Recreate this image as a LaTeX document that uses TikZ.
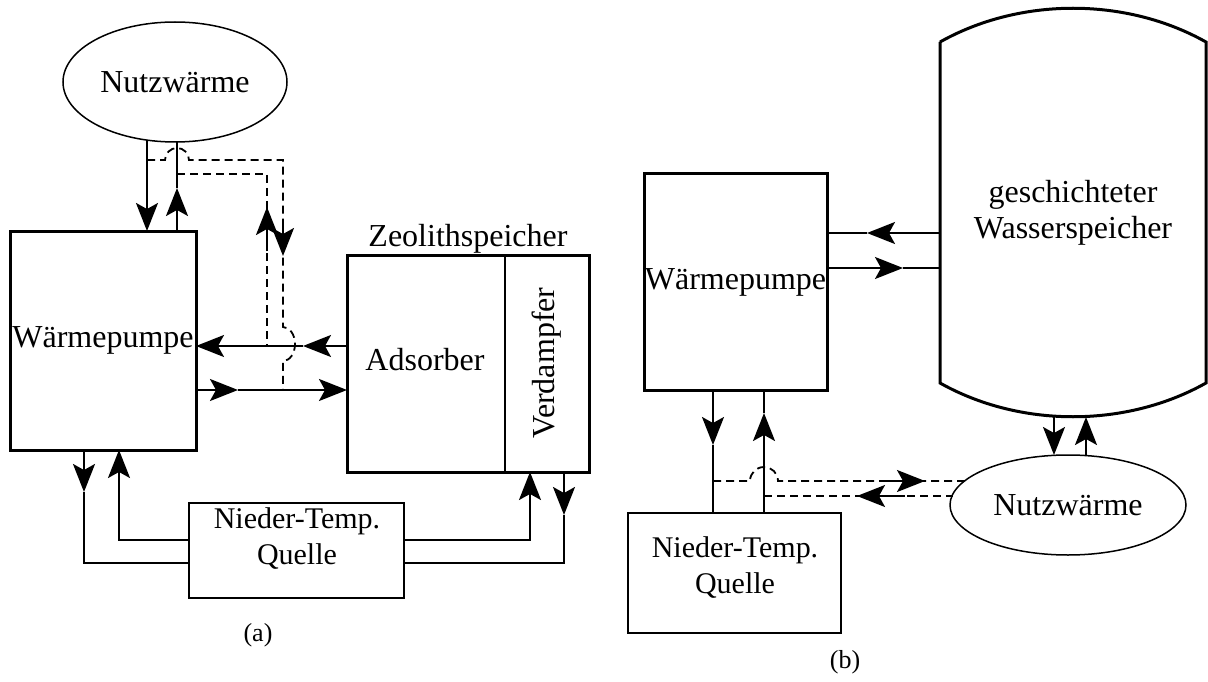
\documentclass[tikz,border=0pt]{standalone}
\usepackage{fontspec}
\setmainfont{Liberation Serif}
\usetikzlibrary{arrows.meta, shapes.geometric, positioning}

\begin{document}
\begin{tikzpicture}[
    x=1pt, y=-1pt,
    every node/.style={font=\fontsize{32}{36}\selectfont, inner sep=0pt, outer sep=0pt},
    box/.style={draw, line width=3pt},
    thinbox/.style={draw, line width=1.5pt},
    oval/.style={draw, ellipse, line width=1.5pt},
    flow/.style={line width=2pt},
    arrow/.style={flow, -{Stealth[length=28pt, width=22pt, inset=6pt]}},
    dline/.style={line width=1.8pt, dash pattern=on 8pt off 5pt},
    smalltext/.style={font=\fontsize{30}{36}\selectfont},
    caption/.style={font=\fontsize{26}{30}\selectfont}
  ]
  \useasboundingbox (0,0) rectangle (1208,682);

  % ---------- (a) ----------
  \node (nwa) [oval, minimum width=224pt, minimum height=120pt] at (175,82) {Nutzwärme};
  \node (wpa) [box, minimum width=186pt, minimum height=219pt] at (103,340.5) {Wärmepumpe};
  \node (zs)  [box, minimum width=242pt, minimum height=217pt] at (468,363.5) {};
  \node (zsl) [above=2pt of zs] {Zeolithspeicher};
  \node (ads) at (425,360) {Adsorber};
  \node (vd)  [rotate=90] at (547,363) {Verdampfer};
  \node (nta) [thinbox, minimum width=215pt, minimum height=95pt] at (296.5,550.5) {};
  \node (ntat) [smalltext, align=center] at (297,539) {Nieder-Temp.\\Quelle};
  \node (capa) [caption] at (258,635) {(a)};

  % rows and columns
  \coordinate (ra1) at (0,346);  \coordinate (ra2) at (0,390);
  \coordinate (ra3) at (0,540);  \coordinate (ra4) at (0,563);
  \coordinate (rd1) at (0,160);  \coordinate (rd2) at (0,174);
  \coordinate (ca1) at (147,0);  \coordinate (ca2) at (177,0);
  \coordinate (ca3) at (267,0);  \coordinate (ca4) at (283,0);
  \coordinate (ca5) at (84,0);   \coordinate (ca6) at (119,0);
  \coordinate (ca7) at (530,0);  \coordinate (ca8) at (564,0);
  \coordinate (zdiv) at (505,0);

  % divider in the store
  \draw[line width=1.5pt] (zdiv |- zs.north) -- (zdiv |- zs.south);

  % Nutzwaerme <-> Waermepumpe
  \draw[arrow] (nwa.244 -| ca1) -- (wpa.north -| ca1);
  \draw[arrow] (wpa.north -| ca2) -- ++(0,-43) coordinate (ta1);
  \draw[flow] (ta1) -- (nwa.south -| ca2);

  % dashed branch to the store
  \draw[dline] (ca1 |- rd1) -- ++(18,0) arc[start angle=180, end angle=360, radius=12]
    -- (ca4 |- rd1) -- ++(0,167) arc[start angle=-90, end angle=90, x radius=12, y radius=17]
    -- (ca4 |- ra2);
  \draw[dline] (ca2 |- rd2) -- (ca3 |- rd2) -- (ca3 |- ra1);
  \coordinate (td1) at (283,256);
  \coordinate (td2) at (267,207);
  \draw[arrow] (td1) ++(0,-36) -- (td1);
  \draw[arrow] (td2) ++(0,44) -- (td2);

  % Waermepumpe <-> Zeolithspeicher
  \draw[arrow] (zs.west |- ra1) -- ++(-44,0) coordinate (ta2);
  \draw[arrow] (ta2) -- (wpa.east |- ra1);
  \draw[arrow] (wpa.east |- ra2) -- ++(42,0) coordinate (ta3);
  \draw[arrow] (ta3) -- (zs.west |- ra2);

  % Nieder-Temp. Quelle
  \draw[arrow] (wpa.south -| ca5) -- ++(0,42) coordinate (ta4);
  \draw[flow] (ta4) -- (ca5 |- ra4) -- (nta.west |- ra4);
  \draw[arrow] (nta.west |- ra3) -- (ca6 |- ra3) -- (wpa.south -| ca6);
  \draw[arrow] (nta.east |- ra3) -- (ca7 |- ra3) -- (zs.south -| ca7);
  \draw[arrow] (zs.south -| ca8) -- ++(0,43) coordinate (ta5);
  \draw[flow] (ta5) -- (ca8 |- ra4) -- (nta.east |- ra4);

  % ---------- (b) ----------
  \node (wpb) [box, minimum width=183pt, minimum height=216pt] at (735.5,282) {Wärmepumpe};
  \node (ws)  [minimum width=266pt, minimum height=341pt, align=center] at (1073,212.5) {geschichteter\\Wasserspeicher};
  \node (ntb) [thinbox, minimum width=213pt, minimum height=120pt] at (734.5,573) {};
  \node (ntbt) [smalltext, align=center] at (735,568) {Nieder-Temp.\\Quelle};
  \node (nwb) [oval, minimum width=236pt, minimum height=100pt] at (1068,505) {Nutzwärme};
  \node (capb) [caption] at (845,662) {(b)};

  % water tank outline
  \draw[line width=3pt] (ws.north west) -- (ws.south west)
    .. controls +(80,45) and +(-80,45) .. (ws.south east) -- (ws.north east)
    .. controls +(-80,-45) and +(80,-45) .. (ws.north west);

  \coordinate (rb1) at (0,233);  \coordinate (rb2) at (0,268);
  \coordinate (rb3) at (0,481);  \coordinate (rb4) at (0,496);
  \coordinate (tkb) at (0,417);
  \coordinate (cb1) at (713,0);  \coordinate (cb2) at (764,0);
  \coordinate (cb3) at (1054,0); \coordinate (cb4) at (1086,0);

  % Waermepumpe <-> Wasserspeicher
  \draw[arrow] (ws.west |- rb1) -- ++(-73,0) coordinate (tb1);
  \draw[flow] (tb1) -- (wpb.east |- rb1);
  \draw[arrow] (wpb.east |- rb2) -- ++(76,0) coordinate (tb2);
  \draw[flow] (tb2) -- (ws.west |- rb2);

  % Waermepumpe <-> Nieder-Temp. Quelle
  \draw[arrow] (wpb.south -| cb1) -- ++(0,55) coordinate (tb3);
  \draw[flow] (tb3) -- (ntb.north -| cb1);
  \draw[arrow] (ntb.north -| cb2) -- ++(0,-100) coordinate (tb4);
  \draw[flow] (tb4) -- (wpb.south -| cb2);

  % dashed loop to Nutzwaerme
  \draw[dline] (cb1 |- rb3) -- ++(37,0) arc[start angle=180, end angle=360, radius=14]
    -- (nwb.165 |- rb3);
  \draw[dline] (cb2 |- rb4) -- (nwb.174 |- rb4);
  \coordinate (tb5) at (925,481);
  \coordinate (tb6) at (857,496);
  \draw[arrow] (tb5) ++(-46,0) -- (tb5);
  \draw[arrow] (tb6) ++(48,0) -- (tb6);

  % Wasserspeicher <-> Nutzwaerme
  \draw[arrow] (cb3 |- tkb) -- (nwb.north -| cb3);
  \draw[arrow] (nwb.north -| cb4) -- (cb4 |- tkb);
\end{tikzpicture}
\end{document}
